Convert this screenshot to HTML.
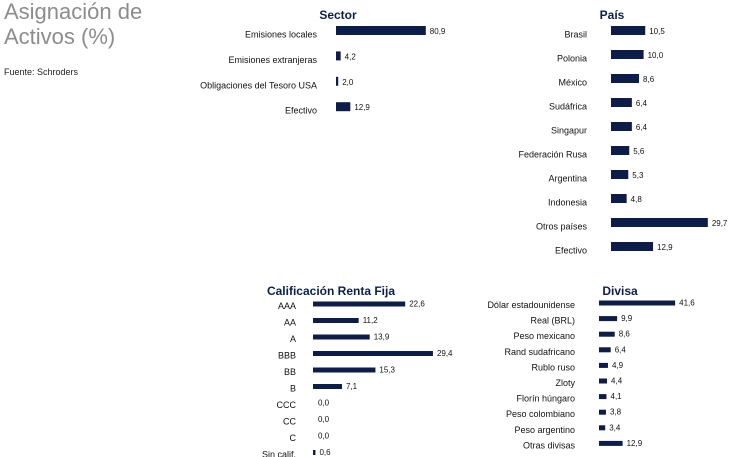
<!DOCTYPE html>
<html><head><meta charset="utf-8"><style>
body{margin:0;width:751px;height:457px;background:#fff;overflow:hidden;font-family:"Liberation Sans",Arial,sans-serif}
svg{position:absolute;left:0;top:0}
</style></head><body>
<svg id="c" width="751" height="457">
<text x="4" y="19" font-size="22" fill="#8c8c8c">Asignación de</text>
<text x="4" y="44" font-size="22" fill="#8c8c8c">Activos (%)</text>
<text x="4" y="75" font-size="9" fill="#222">Fuente: Schroders</text>
</svg>
<script>
const sectorCats=["Emisiones locales","Emisiones extranjeras","Obligaciones del Tesoro USA","Efectivo"];
const sectorVals=[80.9,4.2,2.0,12.9];
const paisCats=["Brasil","Polonia","México","Sudáfrica","Singapur","Federación Rusa","Argentina","Indonesia","Otros países","Efectivo"];
const paisVals=[10.5,10.0,8.6,6.4,6.4,5.6,5.3,4.8,29.7,12.9];
const califCats=["AAA","AA","A","BBB","BB","B","CCC","CC","C","Sin calif."];
const califVals=[22.6,11.2,13.9,29.4,15.3,7.1,0.0,0.0,0.0,0.6];
const divisaCats=["Dólar estadounidense","Real (BRL)","Peso mexicano","Rand sudafricano","Rublo ruso","Zloty","Florín húngaro","Peso colombiano","Peso argentino","Otras divisas"];
const divisaVals=[41.6,9.9,8.6,6.4,4.9,4.4,4.1,3.8,3.4,12.9];

const svg=document.getElementById('c');
const NS='http://www.w3.org/2000/svg';
function mk(tag,attrs){const e=document.createElementNS(NS,tag);for(const k in attrs)e.setAttribute(k,attrs[k]);svg.appendChild(e);return e;}
function fmt(v){return v.toFixed(1).replace('.',',');}
function chart(key,title,tx,ty,cats,vals,x0,scale,y0,pitch,bh,lx,ldy,vdy){
  const t=mk('text',{x:tx,y:ty,'font-size':12,'font-weight':'bold',fill:'#0b1f4b','text-anchor':'middle'});
  t.textContent=title;
  
  
  cats.forEach((c,i)=>{
    const cy=y0+i*pitch;
    const w=Math.max(vals[i]*scale,0);
    const r=mk('rect',{x:x0,y:cy-bh/2,width:w,height:bh,fill:'#0c1d4a'});
    
    
    const l=mk('text',{x:lx,y:cy+ldy,'font-size':9,fill:'#111','text-anchor':'end'});
    l.textContent=c;
    
    
    const v=mk('text',{x:x0+w+(vals[i]>0?4:5),y:cy+vdy,'font-size':8,fill:'#111'});
    v.textContent=fmt(vals[i]);
    
    
  });
}
chart('sector','Sector',338,19,sectorCats,sectorVals,336,1.11,30.5,25.4,9,317,7,3.5);
chart('pais','País',612,19,paisCats,paisVals,611,3.26,30.5,24,9,587,7,3.5);
chart('calif','Calificación Renta Fija',331,295,califCats,califVals,313,4.08,304,16.5,5,296,5,2.5);
chart('divisa','Divisa',620,295,divisaCats,divisaVals,599,1.83,303,15.6,5,575,5,2.5);
</script>
</body></html>
